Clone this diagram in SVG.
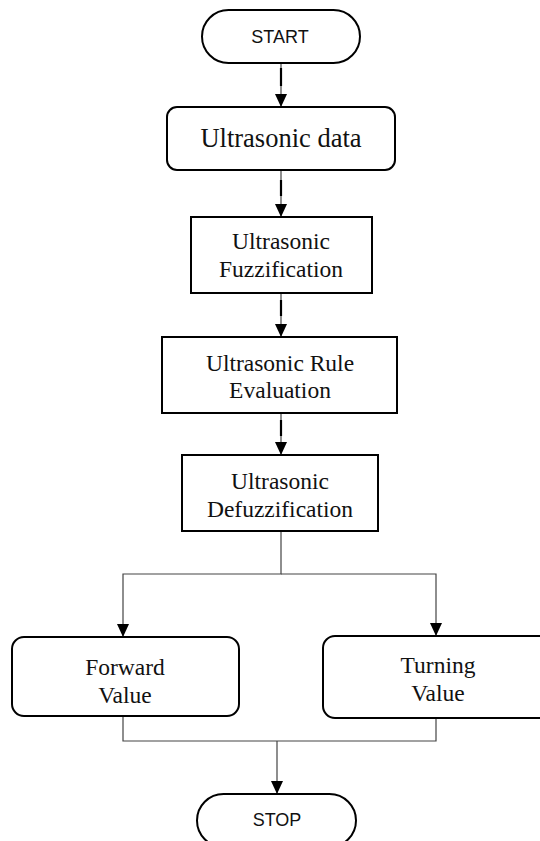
<svg xmlns="http://www.w3.org/2000/svg" width="540" height="841" viewBox="0 0 540 841">
<defs>
<marker id="ah" viewBox="0 0 13 12" refX="13" refY="6" markerWidth="13" markerHeight="12" markerUnits="userSpaceOnUse" orient="auto">
<path d="M0,0 L13,6 L0,12 Z" fill="#000"/>
</marker>
<style>
.box{fill:#fff;stroke:#000;stroke-width:2}
.t{font-family:"Liberation Serif","Times New Roman",serif;fill:#111;text-anchor:middle}
.s{font-family:"Liberation Sans",Arial,sans-serif;fill:#111;text-anchor:middle;font-size:18px}
.c{fill:none;stroke:#444;stroke-width:1.2}
.k{fill:none;stroke:#000;stroke-width:2.2}
</style>
</defs>
<rect width="540" height="841" fill="#fff"/>
<g id="connectors">
<path class="c" d="M281,63 V107" marker-end="url(#ah)"/>
<path class="k" d="M281,68 V86"/>
<path class="c" d="M281,170 V217" marker-end="url(#ah)"/>
<path class="k" d="M281,180 V196"/>
<path class="c" d="M281,293 V337" marker-end="url(#ah)"/>
<path class="k" d="M281,300 V316"/>
<path class="c" d="M281,413 V455" marker-end="url(#ah)"/>
<path class="k" d="M281,420 V436"/>
<path class="c" d="M281,531 V574 H123 V637" marker-end="url(#ah)"/>
<path class="c" d="M281,574 H436 V636" marker-end="url(#ah)"/>
<path class="c" d="M123,716 V741 H436 V718"/>
<path class="c" d="M277,741 V794" marker-end="url(#ah)"/>
</g>
<g id="start">
<rect class="box" x="202" y="10" width="158" height="53" rx="26.5"/>
<text class="s" x="280" y="43">START</text>
</g>
<g id="ultrasonic-data">
<rect class="box" x="167" y="107" width="228" height="63" rx="10"/>
<text class="t" x="281" y="147" font-size="26.5">Ultrasonic data</text>
</g>
<g id="fuzzification">
<rect class="box" x="191" y="217" width="181" height="76"/>
<text class="t" x="281" y="249" font-size="23.5">Ultrasonic</text>
<text class="t" x="281" y="277" font-size="23.5">Fuzzification</text>
</g>
<g id="rule-evaluation">
<rect class="box" x="162" y="337" width="235" height="76"/>
<text class="t" x="280" y="371" font-size="23.5">Ultrasonic Rule</text>
<text class="t" x="280" y="398" font-size="23.5">Evaluation</text>
</g>
<g id="defuzzification">
<rect class="box" x="182" y="455" width="196" height="76"/>
<text class="t" x="280" y="489" font-size="23.5">Ultrasonic</text>
<text class="t" x="280" y="517" font-size="23.5">Defuzzification</text>
</g>
<g id="forward-value">
<rect class="box" x="12" y="637" width="227" height="79" rx="12"/>
<text class="t" x="125" y="675" font-size="23.5">Forward</text>
<text class="t" x="125" y="703" font-size="23.5">Value</text>
</g>
<g id="turning-value">
<rect class="box" x="323" y="636" width="240" height="82" rx="12"/>
<text class="t" x="438" y="673" font-size="23.5">Turning</text>
<text class="t" x="438" y="701" font-size="23.5">Value</text>
</g>
<g id="stop">
<rect class="box" x="197" y="794" width="159" height="53" rx="26.5"/>
<text class="s" x="277" y="826">STOP</text>
</g>
</svg>
